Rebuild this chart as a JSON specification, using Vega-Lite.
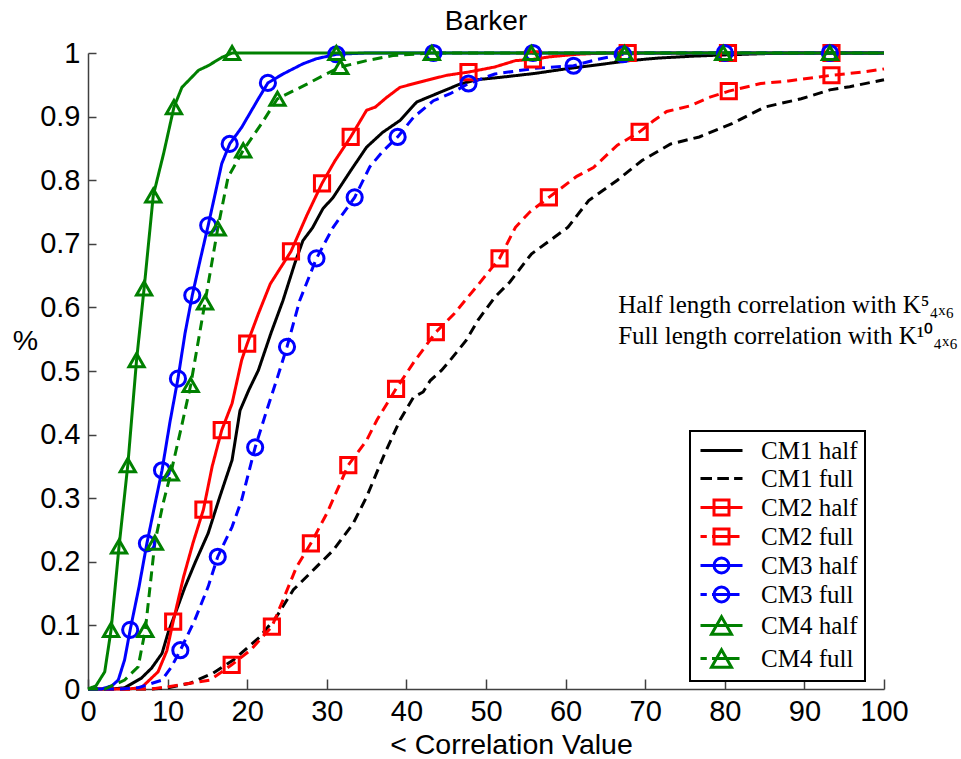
{
  "$schema": "https://vega.github.io/schema/vega-lite/v6.json",
  "width": 796,
  "height": 636,
  "autosize": {"type": "none"},
  "padding": {"left": 88, "top": 53, "right": 77, "bottom": 70},
  "background": "white",
  "title": {"text": "Barker", "frame": "group", "anchor": "middle", "font": "Liberation Sans", "fontSize": 28, "fontWeight": "normal", "color": "black", "baseline": "alphabetic", "offset": -19},
  "config": {
    "view": {"stroke": null},
    "axis": {
      "grid": false,
      "domainColor": "#404040",
      "domainWidth": 1.5,
      "tickColor": "#404040",
      "tickWidth": 1.5,
      "labelFont": "Liberation Sans",
      "labelFontSize": 29,
      "labelColor": "black",
      "labelFlush": false,
      "labelOverlap": false,
      "titleFont": "Liberation Sans",
      "titleFontSize": 28.5,
      "titleFontWeight": "normal",
      "titleColor": "black"
    },
    "legend": {"strokeWidth": 2}
  },
  "datasets": {
    "curves": [
      {"series": "CM1 half", "x": 0, "y": 0}, {"series": "CM1 half", "x": 3, "y": 0}, {"series": "CM1 half", "x": 4.6, "y": 0.002}, {"series": "CM1 half", "x": 6.7, "y": 0.017}, {"series": "CM1 half", "x": 8, "y": 0.033}, {"series": "CM1 half", "x": 9.3, "y": 0.056}, {"series": "CM1 half", "x": 10.1, "y": 0.09}, {"series": "CM1 half", "x": 11, "y": 0.12}, {"series": "CM1 half", "x": 12.2, "y": 0.161}, {"series": "CM1 half", "x": 13.5, "y": 0.2}, {"series": "CM1 half", "x": 15.1, "y": 0.245}, {"series": "CM1 half", "x": 16.5, "y": 0.3}, {"series": "CM1 half", "x": 18.1, "y": 0.36}, {"series": "CM1 half", "x": 19.1, "y": 0.438}, {"series": "CM1 half", "x": 20.2, "y": 0.47}, {"series": "CM1 half", "x": 21.4, "y": 0.501}, {"series": "CM1 half", "x": 23, "y": 0.56}, {"series": "CM1 half", "x": 24.5, "y": 0.611}, {"series": "CM1 half", "x": 26, "y": 0.67}, {"series": "CM1 half", "x": 27, "y": 0.705}, {"series": "CM1 half", "x": 28.2, "y": 0.725}, {"series": "CM1 half", "x": 29.5, "y": 0.755}, {"series": "CM1 half", "x": 30.8, "y": 0.773}, {"series": "CM1 half", "x": 33, "y": 0.815}, {"series": "CM1 half", "x": 35, "y": 0.852}, {"series": "CM1 half", "x": 37, "y": 0.875}, {"series": "CM1 half", "x": 39.2, "y": 0.894}, {"series": "CM1 half", "x": 41.3, "y": 0.923}, {"series": "CM1 half", "x": 43.8, "y": 0.936}, {"series": "CM1 half", "x": 46.7, "y": 0.951}, {"series": "CM1 half", "x": 48.8, "y": 0.958}, {"series": "CM1 half", "x": 52, "y": 0.962}, {"series": "CM1 half", "x": 56.2, "y": 0.968}, {"series": "CM1 half", "x": 60, "y": 0.975}, {"series": "CM1 half", "x": 64.4, "y": 0.982}, {"series": "CM1 half", "x": 68, "y": 0.988}, {"series": "CM1 half", "x": 71.6, "y": 0.992}, {"series": "CM1 half", "x": 76, "y": 0.995}, {"series": "CM1 half", "x": 80, "y": 0.997}, {"series": "CM1 half", "x": 85, "y": 0.999}, {"series": "CM1 half", "x": 90, "y": 1}, {"series": "CM1 half", "x": 100, "y": 1},

      {"series": "CM1 full", "x": 0, "y": 0}, {"series": "CM1 full", "x": 8, "y": 0}, {"series": "CM1 full", "x": 10, "y": 0.002}, {"series": "CM1 full", "x": 12.8, "y": 0.009}, {"series": "CM1 full", "x": 15.7, "y": 0.025}, {"series": "CM1 full", "x": 18.3, "y": 0.046}, {"series": "CM1 full", "x": 21.6, "y": 0.082}, {"series": "CM1 full", "x": 23.7, "y": 0.114}, {"series": "CM1 full", "x": 25.8, "y": 0.156}, {"series": "CM1 full", "x": 28.7, "y": 0.192}, {"series": "CM1 full", "x": 30.8, "y": 0.218}, {"series": "CM1 full", "x": 33.3, "y": 0.26}, {"series": "CM1 full", "x": 35, "y": 0.302}, {"series": "CM1 full", "x": 37.1, "y": 0.365}, {"series": "CM1 full", "x": 39.2, "y": 0.423}, {"series": "CM1 full", "x": 40.9, "y": 0.459}, {"series": "CM1 full", "x": 42.1, "y": 0.467}, {"series": "CM1 full", "x": 43, "y": 0.485}, {"series": "CM1 full", "x": 44.4, "y": 0.501}, {"series": "CM1 full", "x": 45.5, "y": 0.517}, {"series": "CM1 full", "x": 47.5, "y": 0.548}, {"series": "CM1 full", "x": 49, "y": 0.58}, {"series": "CM1 full", "x": 51.1, "y": 0.616}, {"series": "CM1 full", "x": 53, "y": 0.64}, {"series": "CM1 full", "x": 55.7, "y": 0.684}, {"series": "CM1 full", "x": 58, "y": 0.705}, {"series": "CM1 full", "x": 60.3, "y": 0.726}, {"series": "CM1 full", "x": 62.9, "y": 0.768}, {"series": "CM1 full", "x": 66.5, "y": 0.8}, {"series": "CM1 full", "x": 69.6, "y": 0.831}, {"series": "CM1 full", "x": 73.2, "y": 0.857}, {"series": "CM1 full", "x": 76.8, "y": 0.868}, {"series": "CM1 full", "x": 80.9, "y": 0.889}, {"series": "CM1 full", "x": 85, "y": 0.915}, {"series": "CM1 full", "x": 89.6, "y": 0.928}, {"series": "CM1 full", "x": 93.2, "y": 0.942}, {"series": "CM1 full", "x": 95.7, "y": 0.947}, {"series": "CM1 full", "x": 100, "y": 0.958},

      {"series": "CM2 half", "x": 0, "y": 0}, {"series": "CM2 half", "x": 5, "y": 0}, {"series": "CM2 half", "x": 6.7, "y": 0.002}, {"series": "CM2 half", "x": 8.8, "y": 0.027}, {"series": "CM2 half", "x": 9.9, "y": 0.06}, {"series": "CM2 half", "x": 10.7, "y": 0.106}, {"series": "CM2 half", "x": 12, "y": 0.176}, {"series": "CM2 half", "x": 13.2, "y": 0.23}, {"series": "CM2 half", "x": 14.5, "y": 0.282}, {"series": "CM2 half", "x": 15.6, "y": 0.35}, {"series": "CM2 half", "x": 16.8, "y": 0.407}, {"series": "CM2 half", "x": 18.1, "y": 0.449}, {"series": "CM2 half", "x": 19.3, "y": 0.517}, {"series": "CM2 half", "x": 20, "y": 0.543}, {"series": "CM2 half", "x": 21.4, "y": 0.59}, {"series": "CM2 half", "x": 22.9, "y": 0.637}, {"series": "CM2 half", "x": 25.5, "y": 0.688}, {"series": "CM2 half", "x": 27.5, "y": 0.745}, {"series": "CM2 half", "x": 29.4, "y": 0.795}, {"series": "CM2 half", "x": 31, "y": 0.83}, {"series": "CM2 half", "x": 33, "y": 0.868}, {"series": "CM2 half", "x": 35, "y": 0.91}, {"series": "CM2 half", "x": 36.1, "y": 0.915}, {"series": "CM2 half", "x": 37.5, "y": 0.93}, {"series": "CM2 half", "x": 39.2, "y": 0.946}, {"series": "CM2 half", "x": 42.5, "y": 0.957}, {"series": "CM2 half", "x": 45.1, "y": 0.965}, {"series": "CM2 half", "x": 47.8, "y": 0.97}, {"series": "CM2 half", "x": 51.1, "y": 0.978}, {"series": "CM2 half", "x": 53.7, "y": 0.988}, {"series": "CM2 half", "x": 55.9, "y": 0.99}, {"series": "CM2 half", "x": 58, "y": 0.994}, {"series": "CM2 half", "x": 61.4, "y": 0.998}, {"series": "CM2 half", "x": 65, "y": 1}, {"series": "CM2 half", "x": 100, "y": 1},

      {"series": "CM2 full", "x": 0, "y": 0}, {"series": "CM2 full", "x": 8, "y": 0}, {"series": "CM2 full", "x": 10.3, "y": 0.004}, {"series": "CM2 full", "x": 15.3, "y": 0.014}, {"series": "CM2 full", "x": 16.6, "y": 0.025}, {"series": "CM2 full", "x": 18.05, "y": 0.038}, {"series": "CM2 full", "x": 20.4, "y": 0.061}, {"series": "CM2 full", "x": 23.1, "y": 0.098}, {"series": "CM2 full", "x": 24.5, "y": 0.14}, {"series": "CM2 full", "x": 26.2, "y": 0.192}, {"series": "CM2 full", "x": 28, "y": 0.229}, {"series": "CM2 full", "x": 30, "y": 0.276}, {"series": "CM2 full", "x": 32.7, "y": 0.352}, {"series": "CM2 full", "x": 35, "y": 0.391}, {"series": "CM2 full", "x": 36.3, "y": 0.423}, {"series": "CM2 full", "x": 38.7, "y": 0.472}, {"series": "CM2 full", "x": 41, "y": 0.515}, {"series": "CM2 full", "x": 43.7, "y": 0.561}, {"series": "CM2 full", "x": 46, "y": 0.59}, {"series": "CM2 full", "x": 49.1, "y": 0.637}, {"series": "CM2 full", "x": 51.7, "y": 0.677}, {"series": "CM2 full", "x": 53.7, "y": 0.726}, {"series": "CM2 full", "x": 55.5, "y": 0.75}, {"series": "CM2 full", "x": 57.9, "y": 0.773}, {"series": "CM2 full", "x": 61.4, "y": 0.806}, {"series": "CM2 full", "x": 63.5, "y": 0.82}, {"series": "CM2 full", "x": 66.5, "y": 0.855}, {"series": "CM2 full", "x": 69.3, "y": 0.876}, {"series": "CM2 full", "x": 71, "y": 0.893}, {"series": "CM2 full", "x": 72.7, "y": 0.908}, {"series": "CM2 full", "x": 75.7, "y": 0.917}, {"series": "CM2 full", "x": 78, "y": 0.93}, {"series": "CM2 full", "x": 80.5, "y": 0.94}, {"series": "CM2 full", "x": 84.5, "y": 0.952}, {"series": "CM2 full", "x": 88, "y": 0.956}, {"series": "CM2 full", "x": 93.4, "y": 0.965}, {"series": "CM2 full", "x": 97.3, "y": 0.97}, {"series": "CM2 full", "x": 100, "y": 0.975},

      {"series": "CM3 half", "x": 0, "y": 0}, {"series": "CM3 half", "x": 1.7, "y": 0}, {"series": "CM3 half", "x": 3, "y": 0.005}, {"series": "CM3 half", "x": 3.8, "y": 0.014}, {"series": "CM3 half", "x": 4.6, "y": 0.046}, {"series": "CM3 half", "x": 5.3, "y": 0.093}, {"series": "CM3 half", "x": 6.4, "y": 0.16}, {"series": "CM3 half", "x": 7.4, "y": 0.229}, {"series": "CM3 half", "x": 8.4, "y": 0.29}, {"series": "CM3 half", "x": 9.3, "y": 0.344}, {"series": "CM3 half", "x": 10.3, "y": 0.42}, {"series": "CM3 half", "x": 11.3, "y": 0.488}, {"series": "CM3 half", "x": 12.2, "y": 0.56}, {"series": "CM3 half", "x": 13.1, "y": 0.619}, {"series": "CM3 half", "x": 14.1, "y": 0.675}, {"series": "CM3 half", "x": 15.1, "y": 0.729}, {"series": "CM3 half", "x": 16, "y": 0.78}, {"series": "CM3 half", "x": 16.8, "y": 0.826}, {"series": "CM3 half", "x": 17.8, "y": 0.857}, {"series": "CM3 half", "x": 19.3, "y": 0.883}, {"series": "CM3 half", "x": 21.4, "y": 0.928}, {"series": "CM3 half", "x": 22.6, "y": 0.953}, {"series": "CM3 half", "x": 24.5, "y": 0.967}, {"series": "CM3 half", "x": 27, "y": 0.983}, {"series": "CM3 half", "x": 28.7, "y": 0.991}, {"series": "CM3 half", "x": 31.2, "y": 0.998}, {"series": "CM3 half", "x": 35, "y": 1}, {"series": "CM3 half", "x": 100, "y": 1},

      {"series": "CM3 full", "x": 0, "y": 0}, {"series": "CM3 full", "x": 3.8, "y": 0}, {"series": "CM3 full", "x": 6.3, "y": 0.002}, {"series": "CM3 full", "x": 9.3, "y": 0.014}, {"series": "CM3 full", "x": 10.5, "y": 0.035}, {"series": "CM3 full", "x": 11.6, "y": 0.061}, {"series": "CM3 full", "x": 13.4, "y": 0.108}, {"series": "CM3 full", "x": 15.1, "y": 0.161}, {"series": "CM3 full", "x": 16.3, "y": 0.208}, {"series": "CM3 full", "x": 18.1, "y": 0.255}, {"series": "CM3 full", "x": 19.3, "y": 0.297}, {"series": "CM3 full", "x": 21, "y": 0.38}, {"series": "CM3 full", "x": 22.5, "y": 0.44}, {"series": "CM3 full", "x": 23.8, "y": 0.49}, {"series": "CM3 full", "x": 25, "y": 0.538}, {"series": "CM3 full", "x": 26.6, "y": 0.611}, {"series": "CM3 full", "x": 28.7, "y": 0.677}, {"series": "CM3 full", "x": 30.8, "y": 0.726}, {"series": "CM3 full", "x": 33.5, "y": 0.773}, {"series": "CM3 full", "x": 35.4, "y": 0.821}, {"series": "CM3 full", "x": 37, "y": 0.845}, {"series": "CM3 full", "x": 38.9, "y": 0.868}, {"series": "CM3 full", "x": 40.9, "y": 0.899}, {"series": "CM3 full", "x": 43.4, "y": 0.925}, {"series": "CM3 full", "x": 45.5, "y": 0.936}, {"series": "CM3 full", "x": 47.8, "y": 0.952}, {"series": "CM3 full", "x": 51.1, "y": 0.967}, {"series": "CM3 full", "x": 56.2, "y": 0.976}, {"series": "CM3 full", "x": 61, "y": 0.98}, {"series": "CM3 full", "x": 64, "y": 0.99}, {"series": "CM3 full", "x": 67.2, "y": 0.998}, {"series": "CM3 full", "x": 70, "y": 1}, {"series": "CM3 full", "x": 100, "y": 1},

      {"series": "CM4 half", "x": 0, "y": 0}, {"series": "CM4 half", "x": 1, "y": 0.005}, {"series": "CM4 half", "x": 2.1, "y": 0.027}, {"series": "CM4 half", "x": 2.9, "y": 0.093}, {"series": "CM4 half", "x": 3.9, "y": 0.224}, {"series": "CM4 half", "x": 5, "y": 0.352}, {"series": "CM4 half", "x": 6.1, "y": 0.517}, {"series": "CM4 half", "x": 7.05, "y": 0.63}, {"series": "CM4 half", "x": 8.2, "y": 0.776}, {"series": "CM4 half", "x": 9.5, "y": 0.842}, {"series": "CM4 half", "x": 10.8, "y": 0.915}, {"series": "CM4 half", "x": 11.8, "y": 0.946}, {"series": "CM4 half", "x": 13.9, "y": 0.973}, {"series": "CM4 half", "x": 15.1, "y": 0.98}, {"series": "CM4 half", "x": 16.8, "y": 0.993}, {"series": "CM4 half", "x": 18.1, "y": 1}, {"series": "CM4 half", "x": 100, "y": 1},

      {"series": "CM4 full", "x": 0, "y": 0}, {"series": "CM4 full", "x": 2.1, "y": 0}, {"series": "CM4 full", "x": 4.6, "y": 0.014}, {"series": "CM4 full", "x": 6.3, "y": 0.035}, {"series": "CM4 full", "x": 7.2, "y": 0.093}, {"series": "CM4 full", "x": 8.4, "y": 0.23}, {"series": "CM4 full", "x": 9.4, "y": 0.29}, {"series": "CM4 full", "x": 10.4, "y": 0.339}, {"series": "CM4 full", "x": 11.7, "y": 0.41}, {"series": "CM4 full", "x": 12.9, "y": 0.478}, {"series": "CM4 full", "x": 14.7, "y": 0.608}, {"series": "CM4 full", "x": 16.3, "y": 0.724}, {"series": "CM4 full", "x": 17.6, "y": 0.805}, {"series": "CM4 full", "x": 19.5, "y": 0.847}, {"series": "CM4 full", "x": 21.8, "y": 0.889}, {"series": "CM4 full", "x": 23.8, "y": 0.928}, {"series": "CM4 full", "x": 27.5, "y": 0.951}, {"series": "CM4 full", "x": 29.6, "y": 0.965}, {"series": "CM4 full", "x": 31.7, "y": 0.978}, {"series": "CM4 full", "x": 35, "y": 0.988}, {"series": "CM4 full", "x": 38.3, "y": 0.996}, {"series": "CM4 full", "x": 43.2, "y": 1}, {"series": "CM4 full", "x": 100, "y": 1}
    ],
    "markers": [
      {"series": "CM2 half", "x": 10.7, "y": 0.106}, {"series": "CM2 half", "x": 14.5, "y": 0.282}, {"series": "CM2 half", "x": 16.8, "y": 0.407}, {"series": "CM2 half", "x": 20, "y": 0.543}, {"series": "CM2 half", "x": 25.5, "y": 0.688}, {"series": "CM2 half", "x": 29.4, "y": 0.795}, {"series": "CM2 half", "x": 33, "y": 0.868}, {"series": "CM2 half", "x": 47.8, "y": 0.97}, {"series": "CM2 half", "x": 55.9, "y": 0.99}, {"series": "CM2 half", "x": 67.8, "y": 1}, {"series": "CM2 half", "x": 80.4, "y": 1}, {"series": "CM2 half", "x": 93.4, "y": 1},
      {"series": "CM2 full", "x": 18.05, "y": 0.038}, {"series": "CM2 full", "x": 23.1, "y": 0.098}, {"series": "CM2 full", "x": 28, "y": 0.229}, {"series": "CM2 full", "x": 32.7, "y": 0.352}, {"series": "CM2 full", "x": 38.7, "y": 0.472}, {"series": "CM2 full", "x": 43.7, "y": 0.561}, {"series": "CM2 full", "x": 51.7, "y": 0.677}, {"series": "CM2 full", "x": 57.9, "y": 0.773}, {"series": "CM2 full", "x": 69.3, "y": 0.876}, {"series": "CM2 full", "x": 80.5, "y": 0.94}, {"series": "CM2 full", "x": 93.4, "y": 0.965},
      {"series": "CM3 half", "x": 5.3, "y": 0.093}, {"series": "CM3 half", "x": 7.4, "y": 0.229}, {"series": "CM3 half", "x": 9.3, "y": 0.344}, {"series": "CM3 half", "x": 11.3, "y": 0.488}, {"series": "CM3 half", "x": 13.1, "y": 0.619}, {"series": "CM3 half", "x": 15.1, "y": 0.729}, {"series": "CM3 half", "x": 17.8, "y": 0.857}, {"series": "CM3 half", "x": 22.6, "y": 0.953}, {"series": "CM3 half", "x": 31.2, "y": 0.998}, {"series": "CM3 half", "x": 43.4, "y": 1}, {"series": "CM3 half", "x": 55.9, "y": 1}, {"series": "CM3 half", "x": 80, "y": 1},
      {"series": "CM3 full", "x": 11.6, "y": 0.061}, {"series": "CM3 full", "x": 16.3, "y": 0.208}, {"series": "CM3 full", "x": 21, "y": 0.38}, {"series": "CM3 full", "x": 25, "y": 0.538}, {"series": "CM3 full", "x": 28.7, "y": 0.677}, {"series": "CM3 full", "x": 33.5, "y": 0.773}, {"series": "CM3 full", "x": 38.9, "y": 0.868}, {"series": "CM3 full", "x": 47.8, "y": 0.952}, {"series": "CM3 full", "x": 61, "y": 0.98}, {"series": "CM3 full", "x": 67.2, "y": 0.998}, {"series": "CM3 full", "x": 93.2, "y": 1},
      {"series": "CM4 half", "x": 2.9, "y": 0.093}, {"series": "CM4 half", "x": 3.9, "y": 0.224}, {"series": "CM4 half", "x": 5, "y": 0.352}, {"series": "CM4 half", "x": 6.1, "y": 0.517}, {"series": "CM4 half", "x": 7.05, "y": 0.63}, {"series": "CM4 half", "x": 8.2, "y": 0.776}, {"series": "CM4 half", "x": 10.8, "y": 0.915}, {"series": "CM4 half", "x": 18.1, "y": 1}, {"series": "CM4 half", "x": 31.2, "y": 1}, {"series": "CM4 half", "x": 55.7, "y": 1}, {"series": "CM4 half", "x": 79.8, "y": 1},
      {"series": "CM4 full", "x": 7.2, "y": 0.093}, {"series": "CM4 full", "x": 8.4, "y": 0.23}, {"series": "CM4 full", "x": 10.4, "y": 0.339}, {"series": "CM4 full", "x": 12.9, "y": 0.478}, {"series": "CM4 full", "x": 14.7, "y": 0.608}, {"series": "CM4 full", "x": 16.3, "y": 0.724}, {"series": "CM4 full", "x": 19.5, "y": 0.847}, {"series": "CM4 full", "x": 23.8, "y": 0.928}, {"series": "CM4 full", "x": 31.7, "y": 0.978}, {"series": "CM4 full", "x": 43.2, "y": 1}, {"series": "CM4 full", "x": 67.4, "y": 1}, {"series": "CM4 full", "x": 93.2, "y": 1}
    ],
    "notes": [
      {"label": "Half length correlation with K⁵₄ₓ₆", "x": 66.6, "y": 0.603},
      {"label": "Full length correlation with K¹⁰₄ₓ₆", "x": 66.6, "y": 0.555}
    ]
  },
  "resolve": {"scale": {"color": "independent", "shape": "independent", "strokeDash": "independent"}},
  "layer": [
    {
      "data": {"name": "curves"},
      "mark": {"type": "line", "strokeWidth": 3, "clip": false},
      "encoding": {
        "x": {"field": "x", "type": "quantitative", "scale": {"domain": [0, 100], "nice": false},
              "axis": {"values": [0, 10, 20, 30, 40, 50, 60, 70, 80, 90, 100], "format": "d", "tickSize": -10, "labelPadding": 18,
                       "title": "< Correlation Value", "titleX": 423, "titleY": 64, "titleAlign": "center", "titleBaseline": "alphabetic"}},
        "y": {"field": "y", "type": "quantitative", "scale": {"domain": [0, 1], "nice": false},
              "axis": {"values": [0, 0.1, 0.2, 0.3, 0.4, 0.5, 0.6, 0.7, 0.8, 0.9, 1], "format": "~g", "tickSize": -8, "labelPadding": 16,
                       "title": "%", "titleAngle": 0, "titleX": -63, "titleY": 287, "titleAlign": "center", "titleBaseline": "middle"}},
        "color": {"field": "series", "type": "nominal", "legend": null,
                  "scale": {"domain": ["CM1 half", "CM1 full", "CM2 half", "CM2 full", "CM3 half", "CM3 full", "CM4 half", "CM4 full"],
                            "range": ["#000000", "#000000", "#ff0000", "#ff0000", "#0000ff", "#0000ff", "#008000", "#008000"]}},
        "strokeDash": {"field": "series", "type": "nominal", "legend": null,
                       "scale": {"domain": ["CM1 half", "CM1 full", "CM2 half", "CM2 full", "CM3 half", "CM3 full", "CM4 half", "CM4 full"],
                                 "range": [[1, 0], [10, 6], [1, 0], [10, 6], [1, 0], [10, 6], [1, 0], [10, 6]]}}
      }
    },
    {
      "data": {"name": "markers"},
      "mark": {"type": "point", "filled": false, "strokeWidth": 3, "size": 230, "opacity": 1, "clip": false},
      "encoding": {
        "x": {"field": "x", "type": "quantitative"},
        "y": {"field": "y", "type": "quantitative"},
        "color": {"field": "series", "type": "nominal", "legend": null,
                  "scale": {"domain": ["CM2 half", "CM2 full", "CM3 half", "CM3 full", "CM4 half", "CM4 full"],
                            "range": ["#ff0000", "#ff0000", "#0000ff", "#0000ff", "#008000", "#008000"]}},
        "shape": {"field": "series", "type": "nominal", "legend": null,
                  "scale": {"domain": ["CM2 half", "CM2 full", "CM3 half", "CM3 full", "CM4 half", "CM4 full"],
                            "range": ["square", "square", "circle", "circle", "triangle-up", "triangle-up"]}}
      }
    },
    {
      "data": {"name": "notes"},
      "mark": {"type": "text", "align": "left", "baseline": "middle", "font": "Liberation Serif", "fontSize": 25, "color": "black"},
      "encoding": {
        "x": {"field": "x", "type": "quantitative"},
        "y": {"field": "y", "type": "quantitative"},
        "text": {"field": "label", "type": "nominal"}
      }
    },
    {
      "data": {"values": []},
      "mark": {"type": "point", "filled": false, "opacity": 1},
      "encoding": {
        "x": {"field": "x", "type": "quantitative"},
        "y": {"field": "y", "type": "quantitative"},
        "color": {"field": "series", "type": "nominal",
                  "scale": {"domain": ["CM1 half", "CM1 full", "CM2 half", "CM2 full", "CM3 half", "CM3 full", "CM4 half", "CM4 full"],
                            "range": ["#000000", "#000000", "#ff0000", "#ff0000", "#0000ff", "#0000ff", "#008000", "#008000"]},
                  "legend": {"title": null, "orient": "none", "legendX": 602, "legendY": 378, "padding": 7,
                             "strokeColor": "black", "fillColor": "white", "cornerRadius": 0,
                             "symbolSize": 400, "symbolStrokeWidth": 3, "labelOffset": 39,
                             "labelFont": "Liberation Serif", "labelFontSize": 25, "labelColor": "black", "labelLimit": 300,
                             "labelExpr": "datum.label + '\u00a0\u00a0'",
                             "rowPadding": 2}},
        "shape": {"field": "series", "type": "nominal",
                  "scale": {"domain": ["CM1 half", "CM1 full", "CM2 half", "CM2 full", "CM3 half", "CM3 full", "CM4 half", "CM4 full"],
                            "range": [
                              "M-0.9,0H3.3",
                              "M-0.9,0H0.25M0.78,0H1.94M2.46,0H3.3",
                              "M-0.9,0H3.3M0.45,-0.75H1.95V0.75H0.45Z",
                              "M-0.9,0H-0.27M0.25,0H3M0.45,-0.75H1.95V0.75H0.45Z",
                              "M-0.9,0H3.3M1.95,0A0.75,0.75 0 1,1 0.45,0A0.75,0.75 0 1,1 1.95,0Z",
                              "M-0.9,0H-0.27M0.25,0H3M1.95,0A0.75,0.75 0 1,1 0.45,0A0.75,0.75 0 1,1 1.95,0Z",
                              "M-0.9,0H3.3M1.2,-0.88L2.2,0.88H0.2Z",
                              "M-0.9,0H-0.27M0.25,0H3M1.2,-0.88L2.2,0.88H0.2Z"
                            ]},
                  "legend": {"title": null}}
      }
    }
  ]
}
